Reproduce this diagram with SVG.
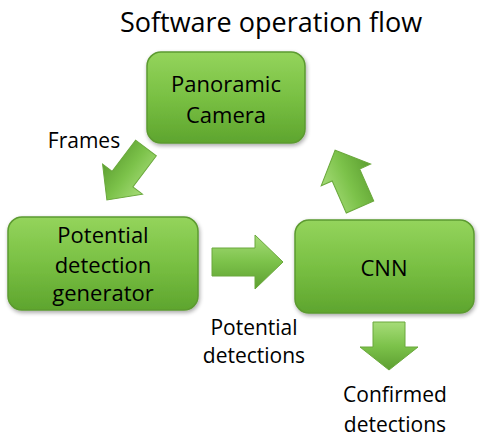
<svg xmlns="http://www.w3.org/2000/svg" width="480" height="439" viewBox="0 0 480 439">
<defs>
<linearGradient id="boxg" x1="0" y1="0" x2="0" y2="1">
<stop offset="0" stop-color="#94d45c"/>
<stop offset="0.5" stop-color="#79c043"/>
<stop offset="1" stop-color="#5ea52e"/>
</linearGradient>
<linearGradient id="arrg" x1="0" y1="0" x2="0" y2="1">
<stop offset="0" stop-color="#a6dc78"/>
<stop offset="0.5" stop-color="#7cc24a"/>
<stop offset="1" stop-color="#5d9f31"/>
</linearGradient>
<filter id="sh" x="-10%" y="-10%" width="130%" height="130%">
<feGaussianBlur in="SourceAlpha" stdDeviation="2"/>
<feOffset dx="1" dy="2" result="b"/>
<feComponentTransfer><feFuncA type="linear" slope="0.35"/></feComponentTransfer>
<feMerge><feMergeNode/><feMergeNode in="SourceGraphic"/></feMerge>
</filter>
</defs>
<style>
.box{fill:url(#boxg);stroke:#5c9a30;stroke-width:1.5;filter:url(#sh)}
.arr{fill:url(#arrg);stroke:#6aa83c;stroke-width:1}
text{font-family:"Open Sans","Liberation Sans",Arial,sans-serif;fill:#000;text-anchor:middle}
.t{font-size:22px}
.lbl{font-size:21px}
.title{font-size:27px}
</style>
<rect width="480" height="439" fill="#fff"/>
<text class="title" x="271" y="32">Software operation flow</text>
<g id="connectors">
<polygon class="arr" transform="translate(146,148) rotate(127)" points="0,-13 39,-13 39,-25 65,0 39,25 39,13 0,13"/>
<polygon class="arr" points="212,248 255,248 255,235 283,262 255,289 255,276 212,276"/>
<polygon class="arr" transform="translate(360,207) rotate(-113.7)" points="0,-15 35,-15 35,-27 62,0 35,27 35,15 0,15"/>
<polygon class="arr" points="373,322 405,322 405,347 418,347 389,370 360,347 373,347"/>
</g>
<g id="camera">
<rect class="box" x="147" y="52" width="158" height="91" rx="14"/>
<text class="t" x="226" y="92">Panoramic</text>
<text class="t" x="226" y="123">Camera</text>
</g>
<g id="generator">
<rect class="box" x="8" y="217" width="190" height="93" rx="14"/>
<text class="t" x="103" y="243">Potential</text>
<text class="t" x="103" y="273">detection</text>
<text class="t" x="103" y="301">generator</text>
</g>
<g id="cnn">
<rect class="box" x="295" y="220" width="179" height="93" rx="14"/>
<text class="t" x="384" y="276">CNN</text>
</g>
<text class="lbl" x="84" y="148">Frames</text>
<text class="lbl" x="254" y="335">Potential</text>
<text class="lbl" x="254" y="363">detections</text>
<text class="lbl" x="395" y="402">Confirmed</text>
<text class="lbl" x="395" y="432">detections</text>
</svg>
